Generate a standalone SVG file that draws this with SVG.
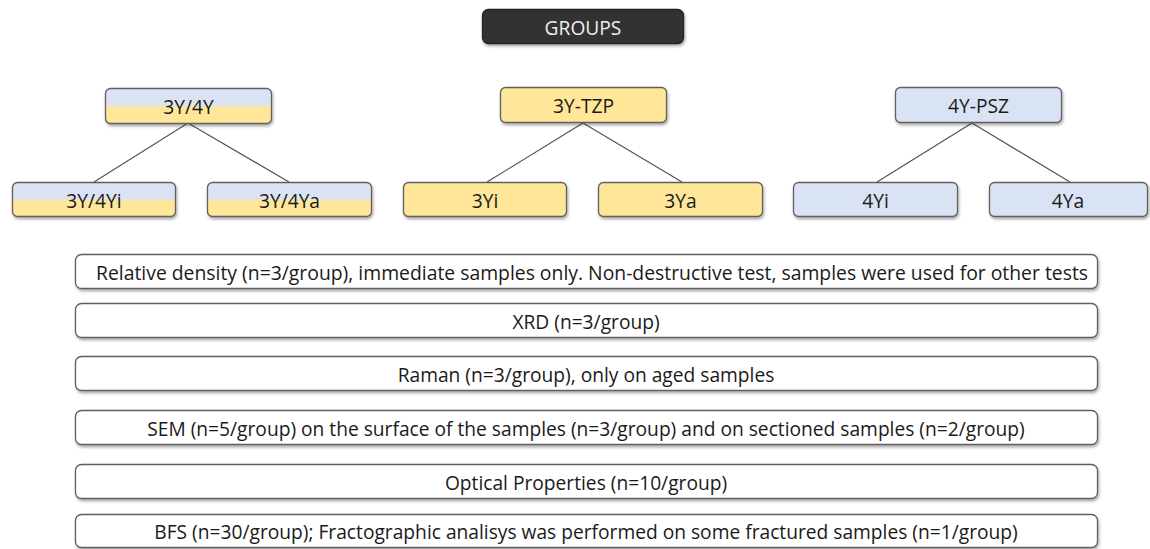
<svg xmlns="http://www.w3.org/2000/svg" width="1150" height="549" viewBox="0 0 1150 549">
<defs>
<linearGradient id="mix" x1="0" y1="0" x2="0" y2="1">
<stop offset="0" stop-color="#DAE3F3"/>
<stop offset="0.45" stop-color="#DAE3F3"/>
<stop offset="0.56" stop-color="#FFE699"/>
<stop offset="1" stop-color="#FFE699"/>
</linearGradient>
<filter id="sh" x="-5%" y="-20%" width="110%" height="150%">
<feDropShadow dx="1" dy="2" stdDeviation="1.5" flood-color="#000" flood-opacity="0.35"/>
</filter>
</defs>
<style>
rect{stroke:#606060;stroke-width:1.3;filter:url(#sh)}
.y{fill:#FFE699}
.b{fill:#DAE3F3}
.m{fill:url(#mix)}
.w{fill:#FFFFFF}
.d{fill:#333333;stroke:#222}
text{font-family:"Open Sans","Noto Sans",sans-serif;font-size:19.2px;fill:#1a1a1a;text-anchor:middle;dominant-baseline:central}
.lt{fill:#EEEEEE}
line{stroke:#555;stroke-width:1.2}
</style>
<g id="connectors">
<line x1="188" y1="123" x2="94" y2="182"/>
<line x1="188" y1="123" x2="289" y2="182"/>
<line x1="583" y1="123" x2="487" y2="182"/>
<line x1="583" y1="123" x2="682" y2="182"/>
<line x1="972" y1="123" x2="877" y2="182"/>
<line x1="972" y1="123" x2="1070" y2="182"/>
</g>
<g id="groups"><rect class="d" x="482.5" y="9.5" width="201" height="34" rx="6"/><text class="lt" x="583" y="27">GROUPS</text></g>
<g id="n3y4y"><rect class="m" x="105.5" y="88.5" width="166" height="35" rx="5"/><text x="188.5" y="106">3Y/4Y</text></g>
<g id="n3ytzp"><rect class="y" x="500.5" y="87.5" width="166" height="35" rx="5"/><text x="583.5" y="105">3Y-TZP</text></g>
<g id="n4ypsz"><rect class="b" x="895.5" y="87.5" width="166" height="35" rx="5"/><text x="978.5" y="105">4Y-PSZ</text></g>
<g id="n3y4yi"><rect class="m" x="12.5" y="182.5" width="163" height="34" rx="5"/><text x="94" y="200">3Y/4Yi</text></g>
<g id="n3y4ya"><rect class="m" x="207.5" y="182.5" width="164" height="34" rx="5"/><text x="289.5" y="200">3Y/4Ya</text></g>
<g id="n3yi"><rect class="y" x="403.5" y="182.5" width="163" height="34" rx="5"/><text x="485" y="200">3Yi</text></g>
<g id="n3ya"><rect class="y" x="598.5" y="182.5" width="164" height="34" rx="5"/><text x="680.5" y="200">3Ya</text></g>
<g id="n4yi"><rect class="b" x="793.5" y="182.5" width="164" height="34" rx="5"/><text x="875.5" y="200">4Yi</text></g>
<g id="n4ya"><rect class="b" x="989.5" y="182.5" width="158" height="34" rx="5"/><text x="1068" y="200">4Ya</text></g>
<g id="r1"><rect class="w" x="75.5" y="254.5" width="1022" height="34" rx="6"/><text x="592" y="272" textLength="992" lengthAdjust="spacingAndGlyphs">Relative density (n=3/group), immediate samples only. Non-destructive test, samples were used for other tests</text></g>
<g id="r2"><rect class="w" x="75.5" y="303.5" width="1022" height="34" rx="6"/><text x="586" y="321">XRD (n=3/group)</text></g>
<g id="r3"><rect class="w" x="75.5" y="356.5" width="1022" height="34" rx="6"/><text x="586" y="374">Raman (n=3/group), only on aged samples</text></g>
<g id="r4"><rect class="w" x="75.5" y="410.5" width="1022" height="34" rx="6"/><text x="586" y="428">SEM (n=5/group) on the surface of the samples (n=3/group) and on sectioned samples (n=2/group)</text></g>
<g id="r5"><rect class="w" x="75.5" y="464.5" width="1022" height="34" rx="6"/><text x="586" y="482">Optical Properties (n=10/group)</text></g>
<g id="r6"><rect class="w" x="75.5" y="514.5" width="1022" height="33" rx="6"/><text x="586" y="531">BFS (n=30/group); Fractographic analisys was performed on some fractured samples (n=1/group)</text></g>
</svg>
